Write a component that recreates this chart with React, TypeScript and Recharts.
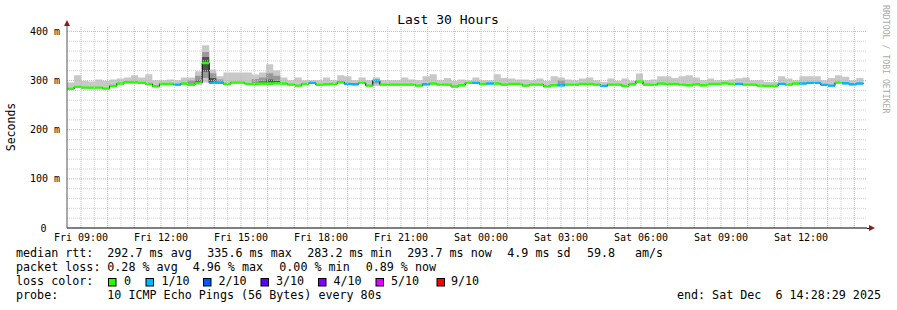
import React from 'react';
import { ComposedChart, Area, XAxis, YAxis, ReferenceLine } from 'recharts';

// ---- data (16 minute consolidated steps, starting Fri 08:28:29) ----
const STEP_HOURS = 16 / 60;

const medianRtt = [
  283.0, 287.1, 285.7, 285.7, 285.7, 283.7, 289.1, 293.9, 296.6, 296.6,
  295.2, 293.2, 288.4, 293.2, 293.2, 291.8, 293.9, 291.8, 295.2, 335.6,
  295.2, 295.2, 293.2, 295.9, 295.9, 293.2, 293.2, 293.9, 293.9, 294.5,
  293.9, 291.8, 289.8, 293.2, 295.2, 291.2, 292.5, 293.2, 296.6, 293.2,
  292.5, 295.2, 289.8, 300.0, 291.8, 291.8, 291.8, 291.8, 291.8, 289.8,
  292.5, 293.9, 291.8, 291.8, 287.8, 290.5, 295.2, 295.2, 293.2, 293.9,
  293.9, 291.8, 293.2, 293.2, 289.8, 291.8, 291.8, 288.4, 290.5, 290.5,
  291.8, 291.8, 293.2, 293.2, 291.8, 289.1, 291.8, 291.8, 289.1, 292.5,
  298.0, 291.8, 291.2, 293.9, 293.2, 293.2, 291.8, 290.5, 292.5, 290.5,
  293.2, 293.2, 294.5, 293.2, 293.2, 291.8, 291.8, 289.8, 289.1, 289.1,
  293.2, 291.8, 293.9, 293.9, 295.2, 295.2, 291.2, 289.8, 295.9, 294.5,
  292.5, 293.9,
];

const minRtt = [
  281, 285, 284, 284, 284, 282, 287, 292, 294, 294,
  293, 291, 286, 291, 291, 289, 291, 289, 293, 296,
  293, 293, 291, 294, 294, 291, 291, 291, 291, 292,
  292, 290, 288, 291, 293, 289, 290, 291, 294, 291,
  290, 293, 288, 289, 290, 290, 290, 290, 290, 288,
  290, 292, 290, 290, 286, 288, 293, 293, 291, 292,
  292, 290, 291, 291, 288, 290, 290, 286, 288, 288,
  290, 290, 291, 291, 290, 287, 290, 290, 287, 290,
  296, 290, 289, 292, 291, 291, 290, 288, 290, 288,
  291, 291, 292, 291, 291, 290, 290, 288, 287, 287,
  291, 290, 292, 292, 293, 293, 289, 287, 294, 292,
  290, 292,
];

const maxRtt = [
  296.0, 310.9, 299.3, 298.0, 302.0, 299.3, 302.0, 304.1, 306.1, 310.9,
  306.1, 312.9, 300.7, 300.7, 302.0, 300.7, 306.1, 306.1, 319.0, 372.0,
  322.4, 308.8, 316.3, 316.3, 316.3, 316.3, 312.2, 316.3, 333.3, 321.0,
  306.1, 300.7, 306.1, 300.7, 300.7, 300.7, 306.1, 300.7, 310.9, 308.8,
  300.7, 306.1, 300.7, 306.1, 300.7, 300.7, 300.7, 306.1, 302.0, 300.7,
  308.8, 312.9, 300.7, 305.4, 299.3, 302.0, 300.7, 306.1, 300.7, 300.7,
  312.9, 305.4, 304.1, 302.0, 302.0, 300.7, 304.1, 299.3, 308.8, 306.1,
  302.0, 300.7, 304.1, 306.1, 300.7, 297.3, 304.1, 299.3, 304.1, 299.3,
  314.3, 300.7, 302.0, 308.8, 308.8, 305.4, 308.8, 310.9, 306.1, 300.7,
  304.1, 300.7, 300.7, 302.0, 304.8, 306.1, 300.7, 300.7, 297.3, 297.3,
  308.8, 304.1, 300.7, 308.8, 308.8, 308.8, 300.7, 305.4, 310.9, 307.5,
  300.7, 305.4,
];

// lost pings out of 10 per step
const lostPings = [
  0, 0, 0, 0, 0, 0, 0, 0, 0, 0,
  0, 0, 0, 0, 0, 1, 0, 0, 0, 0,
  1, 1, 0, 0, 0, 0, 0, 0, 0, 0,
  0, 0, 0, 0, 1, 0, 0, 0, 0, 1,
  1, 0, 0, 1, 0, 0, 0, 0, 0, 0,
  1, 0, 0, 0, 0, 0, 0, 1, 0, 1,
  0, 0, 0, 0, 0, 0, 0, 0, 0, 1,
  0, 0, 0, 0, 0, 1, 0, 0, 0, 0,
  0, 0, 0, 0, 0, 0, 0, 0, 0, 0,
  0, 0, 0, 0, 1, 0, 0, 0, 0, 0,
  1, 0, 0, 1, 1, 1, 1, 1, 0, 1,
  1, 1,
];

const midSmoke = [
  { step: 17, lo: 293, hi: 300 },
  { step: 18, lo: 292, hi: 310 },
  { step: 19, lo: 305, hi: 358 },
  { step: 20, lo: 296, hi: 315 },
  { step: 21, lo: 295, hi: 302 },
  { step: 26, lo: 293, hi: 303 },
  { step: 27, lo: 293, hi: 306 },
  { step: 28, lo: 292, hi: 315 },
  { step: 29, lo: 293, hi: 310 },
  { step: 43, lo: 294, hi: 302 },
  { step: 69, lo: 292, hi: 300 },
];

const darkSmoke = [
  { step: 18, lo: 294, hi: 300 },
  { step: 19, lo: 318, hi: 348 },
  { step: 20, lo: 297, hi: 305 },
  { step: 27, lo: 294, hi: 298 },
  { step: 28, lo: 293, hi: 302 },
  { step: 29, lo: 294, hi: 299 },
];

const xTickHours = [0.525, 3.525, 6.525, 9.525, 12.525, 15.525, 18.525, 21.525, 24.525, 27.525];
const xTickLabels = ['Fri 09:00', 'Fri 12:00', 'Fri 15:00', 'Fri 18:00', 'Fri 21:00', 'Sat 00:00', 'Sat 03:00', 'Sat 06:00', 'Sat 09:00', 'Sat 12:00'];
const yTicks = [0, 100, 200, 300, 400];
const yTickLabels = ['0', '100 m', '200 m', '300 m', '400 m'];

const lossColors = ['#26ff00', '#00b8ff', '#0059ff', '#5e00ff', '#7e00ff', '#dd00ff', '#ff0000'];
const lossLabels = ['0', '1/10', '2/10', '3/10', '4/10', '5/10', '9/10'];
const lossValues = [0, 1, 2, 3, 4, 5, 9];

const statsRtt = ['292.7 ms avg', '335.6 ms max', '283.2 ms min', '293.7 ms now', '4.9 ms sd', '59.8', 'am/s'];
const statsLoss = ['0.28 % avg', '4.96 % max', '0.00 % min', '0.89 % now'];

// ---- build chart table ----
const BAND = 2.4;
const data: any[] = [];
for (let k = 0; k < medianRtt.length; k++) {
  const med = medianRtt[k];
  const mid = midSmoke.find((s) => s.step === k);
  const dark = darkSmoke.find((s) => s.step === k);
  const row: any = {
    smoke: [minRtt[k], maxRtt[k]],
    mid: mid ? [mid.lo, mid.hi] : [med, med],
    dark: dark ? [dark.lo, dark.hi] : [med, med],
    med,
  };
  lossValues.forEach((lv, i) => {
    row['l' + i] = lostPings[k] === lv ? [med - BAND, med + BAND] : null;
  });
  data.push({ t: k * STEP_HOURS, ...row });
  data.push({ t: (k + 1) * STEP_HOURS, ...row });
}

const hourLines: number[] = [];
const halfLines: number[] = [];
for (let h = 0; h < 30; h++) {
  hourLines.push(0.525 + h);
  if (h > 0) halfLines.push(0.025 + h);
}
const minorY: number[] = [];
for (let v = 20; v < 411; v += 20) if (v % 100 !== 0) minorY.push(v);
const majorY = [100, 200, 300, 400];

const MONO = '"DejaVu Sans Mono", monospace';

const YTick = (props: any) => {
  const { y, payload, index } = props;
  return (
    <text x={payload.value === 0 ? 46.5 : 60} y={y + 3.5} textAnchor="end" fontFamily={MONO} fontSize={10} fill="#000">
      {yTickLabels[index]}
    </text>
  );
};

const XTick = (props: any) => {
  const { x, index } = props;
  return (
    <text x={x} y={241} textAnchor="middle" fontFamily={MONO} fontSize={10} fill="#000">
      {xTickLabels[index]}
    </text>
  );
};

export default function App() {
  const legendFont = { fontFamily: MONO, fontSize: 11.7, fill: '#000', style: { whiteSpace: 'pre' as const } };
  const boxX = [108.5, 146, 203.5, 261, 318.5, 376, 437];
  const boxLabelX = [124, 161.5, 218.5, 276, 333.5, 391, 451];
  return (
    <div style={{ position: 'absolute', left: 0, top: 0, width: 897, height: 310, background: '#fff' }}>
      <ComposedChart
        width={897}
        height={310}
        data={data}
        margin={{ top: 26, right: 30, bottom: 62, left: 8 }}
      >
        <XAxis
          dataKey="t"
          type="number"
          domain={[0, 30]}
          ticks={xTickHours}
          tick={<XTick />}
          tickLine={false}
          axisLine={{ stroke: '#000' }}
          height={20}
          allowDataOverflow
          interval={0}
        />
        <YAxis
          type="number"
          domain={[0, 411]}
          ticks={yTicks}
          tick={<YTick />}
          tickLine={false}
          axisLine={{ stroke: '#555' }}
          width={59}
          allowDataOverflow
          interval={0}
        />
        {halfLines.map((h) => (
          <ReferenceLine key={'hx' + h} x={h} stroke="#d0d0d0" strokeDasharray="1 1" />
        ))}
        {minorY.map((v) => (
          <ReferenceLine key={'my' + v} y={v} stroke="#d0d0d0" strokeDasharray="1 1" />
        ))}
        {hourLines.map((h) => (
          <ReferenceLine key={'mx' + h} x={h} stroke="#f4a0a0" strokeDasharray="1 1" />
        ))}
        {majorY.map((v) => (
          <ReferenceLine key={'My' + v} y={v} stroke="#f4a0a0" strokeDasharray="1 1" />
        ))}
        <Area dataKey="smoke" type="linear" stroke="none" fill="#c8c8c8" fillOpacity={1} isAnimationActive={false} activeDot={false} />
        <Area dataKey="mid" type="linear" stroke="none" fill="#999999" fillOpacity={1} isAnimationActive={false} activeDot={false} />
        <Area dataKey="dark" type="linear" stroke="none" fill="#505050" fillOpacity={1} isAnimationActive={false} activeDot={false} />
        <Area dataKey="med" type="linear" stroke="#000" strokeWidth={1} fill="none" fillOpacity={0} isAnimationActive={false} activeDot={false} />
        {lossValues.map((lv, i) => (
          <Area
            key={'l' + i}
            dataKey={'l' + i}
            type="linear"
            stroke="none"
            fill={lossColors[i]}
            fillOpacity={1}
            isAnimationActive={false}
            activeDot={false}
            connectNulls={false}
          />
        ))}
      </ComposedChart>
      <svg
        width={897}
        height={310}
        style={{ position: 'absolute', left: 0, top: 0, pointerEvents: 'none' }}
      >
        <text x={448} y={23.5} textAnchor="middle" fontFamily={MONO} fontSize={13} fill="#000">
          Last 30 Hours
        </text>
        <text
          transform="translate(14.5,127) rotate(-90)"
          textAnchor="middle"
          fontFamily={MONO}
          fontSize={11.5}
          fill="#000"
        >
          Seconds
        </text>
        <text
          transform="translate(883,5) rotate(90)"
          textAnchor="start"
          fontFamily={MONO}
          fontSize={8.2}
          fill="#aaaaaa"
        >
          RRDTOOL / TOBI OETIKER
        </text>
        {/* axis arrows */}
        <polygon points="64,26 70,26 67,20" fill="#8b1a1a" />
        <line x1={867} y1={228.5} x2={870} y2={228.5} stroke="#000" />
        <polygon points="869,225 869,231 875,228" fill="#8b1a1a" />
        {/* legend */}
        <text x={16} y={257} {...legendFont}>median rtt:</text>
        {[107.3, 207.3, 307.3, 407.3, 507.3, 587, 635].map((x, i) => (
          <text key={'r' + i} x={x} y={257} {...legendFont}>{statsRtt[i]}</text>
        ))}
        <text x={16} y={271} {...legendFont}>packet loss:</text>
        {[107.3, 192.7, 279.3, 365.7].map((x, i) => (
          <text key={'p' + i} x={x} y={271} {...legendFont}>{statsLoss[i]}</text>
        ))}
        <text x={16} y={285} {...legendFont}>loss color:</text>
        {lossColors.map((c, i) => (
          <g key={'b' + i}>
            <rect x={boxX[i]} y={278.5} width={7.5} height={7.5} fill={c} stroke="#000" strokeWidth={1} />
            <text x={boxLabelX[i]} y={285} {...legendFont}>{lossLabels[i]}</text>
          </g>
        ))}
        <text x={16} y={299} {...legendFont}>probe:</text>
        <text x={107.3} y={299} {...legendFont}>10 ICMP Echo Pings (56 Bytes) every 80s</text>
        <text x={881} y={299} textAnchor="end" {...legendFont}>end: Sat Dec  6 14:28:29 2025</text>
      </svg>
    </div>
  );
}
